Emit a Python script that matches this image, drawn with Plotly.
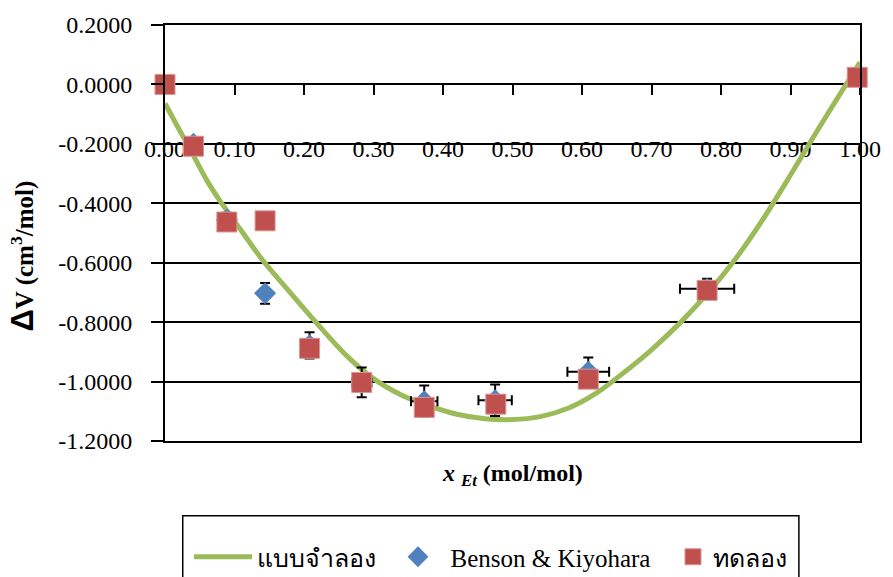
import plotly.graph_objects as go

# Model curve (แบบจำลอง)
model_x = [0.00, 0.02, 0.04, 0.06, 0.08, 0.10, 0.14, 0.18, 0.22, 0.26, 0.30, 0.34, 0.38,
           0.42, 0.46, 0.50, 0.54, 0.58, 0.62, 0.66, 0.70, 0.74, 0.78, 0.82, 0.86, 0.90,
           0.94, 0.98, 1.00]
model_y = [-0.064, -0.150, -0.235, -0.322, -0.395, -0.460, -0.590, -0.700, -0.808, -0.910,
           -0.990, -1.045, -1.082, -1.110, -1.125, -1.128, -1.118, -1.090, -1.040, -0.970,
           -0.893, -0.805, -0.705, -0.590, -0.455, -0.305, -0.150, 0.000, 0.074]

# Literature values (Benson & Kiyohara) with their error bars
lit_x = [0.041, 0.089, 0.144, 0.208, 0.283, 0.373, 0.475, 0.609, 0.780]
lit_y = [-0.200, -0.455, -0.703, -0.878, -1.003, -1.066, -1.063, -0.967, -0.688]
lit_err_x = [0.002, 0.004, 0.007, 0.010, 0.014, 0.019, 0.024, 0.030, 0.039]
lit_err_y = [0.010, 0.023, 0.035, 0.044, 0.050, 0.053, 0.053, 0.048, 0.034]

# Experimental values (ทดลอง)
exp_x = [0.000, 0.041, 0.089, 0.144, 0.208, 0.283, 0.373, 0.476, 0.609, 0.780, 0.996]
exp_y = [0.000, -0.208, -0.463, -0.459, -0.888, -1.003, -1.087, -1.076, -0.992, -0.693, 0.024]

# Axis ticks
x_tickvals = [0.0, 0.1, 0.2, 0.3, 0.4, 0.5, 0.6, 0.7, 0.8, 0.9, 1.0]
x_ticktext = ["0.00", "0.10", "0.20", "0.30", "0.40", "0.50", "0.60", "0.70", "0.80", "0.90", "1.00"]
y_tickvals = [0.2, 0.0, -0.2, -0.4, -0.6, -0.8, -1.0, -1.2]
y_ticktext = ["0.2000", "0.0000", "-0.2000", "-0.4000", "-0.6000", "-0.8000", "-1.0000", "-1.2000"]

SERIF = "Liberation Serif"
GREEN = "#9BBB59"
BLUE = "#4F81BD"
RED = "#C0504D"

W, H = 893, 577
ML, MR, MT, MB = 165, 23, 24, 136
plot_h = H - MT - MB
y_lo, y_hi = -1.2, 0.2


def yfrac(v):
    return (v - y_lo) / (y_hi - y_lo)


def py2frac(px):
    # pixel row -> paper fraction
    return (H - MB - px) / plot_h


def px2frac(px):
    return (px - ML) / (W - ML - MR)


fig = go.Figure()

fig.add_trace(go.Scatter(
    x=model_x, y=model_y, mode="lines", name="แบบจำลอง",
    line=dict(color=GREEN, width=5, shape="spline", smoothing=0.8),
    cliponaxis=False, legend="legend",
))

fig.add_trace(go.Scatter(
    x=lit_x, y=lit_y, mode="markers", name="\u00a0\u00a0Benson & Kiyohara",
    marker=dict(symbol="diamond", size=17, color=BLUE, line=dict(width=0)),
    error_x=dict(type="data", array=lit_err_x, color="black", thickness=2, width=5),
    error_y=dict(type="data", array=lit_err_y, color="black", thickness=2, width=5),
    cliponaxis=False, legend="legend2",
))

fig.add_trace(go.Scatter(
    x=exp_x, y=exp_y, mode="markers", name="ทดลอง",
    marker=dict(symbol="square", size=20, color=RED, line=dict(width=1, color="#D99694")),
    cliponaxis=False, legend="legend3",
))

# empty traces so the overlaid axes are drawn
fig.add_trace(go.Scatter(x=[], y=[], xaxis="x2", showlegend=False, hoverinfo="skip"))
fig.add_trace(go.Scatter(x=[], y=[], xaxis="x3", showlegend=False, hoverinfo="skip"))


def legend_at(px_left, itemwidth=30):
    return dict(
        orientation="h", xref="container", yref="container",
        x=px_left / W, xanchor="left", y=(H - 557) / H, yanchor="middle",
        font=dict(family=SERIF, size=25, color="black"),
        bgcolor="rgba(0,0,0,0)", borderwidth=0, itemwidth=itemwidth,
    )


fig.update_layout(
    width=W, height=H,
    margin=dict(l=ML, r=MR, t=MT, b=MB),
    paper_bgcolor="white", plot_bgcolor="white",
    font=dict(family=SERIF, size=24, color="black"),
    showlegend=True,
    xaxis=dict(
        range=[0, 1], showgrid=False, zeroline=False,
        showline=True, mirror=True, linecolor="black", linewidth=1.5,
        showticklabels=False, ticks="",
    ),
    xaxis2=dict(
        range=[0, 1], overlaying="x", anchor="free", position=yfrac(0.0),
        tickvals=x_tickvals, ticks="outside", ticklen=10, tickwidth=2, tickcolor="black",
        showticklabels=False, showline=False, showgrid=False, zeroline=False,
        layer="below traces",
    ),
    xaxis3=dict(
        range=[0, 1], overlaying="x", anchor="free", position=py2frac(131),
        tickvals=x_tickvals, ticktext=x_ticktext, ticks="",
        tickfont=dict(family=SERIF, size=24, color="black"),
        showline=False, showgrid=False, zeroline=False,
        layer="below traces",
    ),
    yaxis=dict(
        range=[y_lo, y_hi], tickvals=y_tickvals, ticktext=y_ticktext,
        showgrid=True, gridcolor="black", gridwidth=1.5, zeroline=False,
        showline=True, mirror=True, linecolor="black", linewidth=2,
        ticks="outside", ticklen=12, tickwidth=1.5, tickcolor="black",
        ticklabelstandoff=14,
        tickfont=dict(family=SERIF, size=24, color="black"),
    ),
    legend=legend_at(189, itemwidth=58),
    legend2=legend_at(398),
    legend3=legend_at(673),
    shapes=[dict(
        type="rect", xref="paper", yref="paper",
        x0=px2frac(183), x1=px2frac(808), y0=py2frac(516), y1=py2frac(600),
        line=dict(color="black", width=1.5), fillcolor="rgba(0,0,0,0)", layer="below",
    )],
    annotations=[
        dict(
            text="<b><i>x</i> <sub><i>Et</i></sub> (mol/mol)</b>",
            xref="paper", yref="paper", x=0.5, y=py2frac(475),
            xanchor="center", yanchor="middle", showarrow=False,
            font=dict(family=SERIF, size=24, color="black"),
        ),
        dict(
            text="<b><span style='font-family:Liberation Sans;font-size:31px'>Δ</span>V (cm<sup>3</sup>/mol)</b>",
            xref="paper", yref="paper", x=0, xshift=-143, y=py2frac(256),
            xanchor="center", yanchor="middle", textangle=-90, showarrow=False,
            font=dict(family=SERIF, size=25, color="black"),
        ),
    ],
)

fig.write_html("out.html")
